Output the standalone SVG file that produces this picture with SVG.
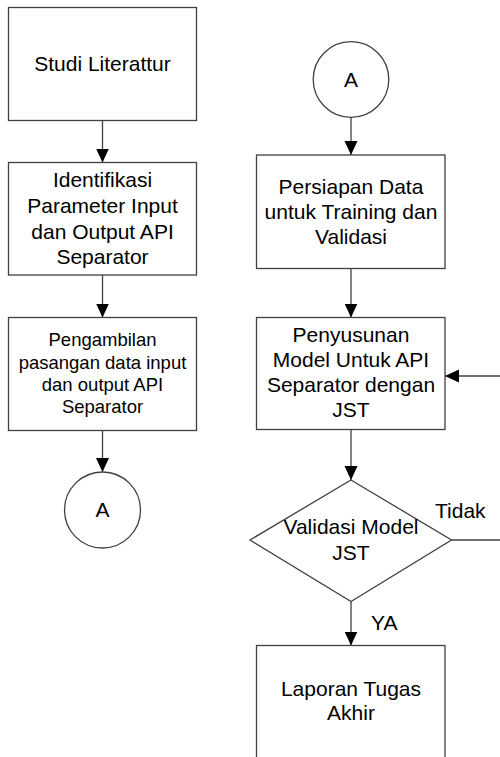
<svg xmlns="http://www.w3.org/2000/svg" width="500" height="757" viewBox="0 0 500 757">
<defs>
<marker id="ah" markerWidth="14" markerHeight="14" refX="14" refY="7" orient="auto" markerUnits="userSpaceOnUse">
<path d="M0,0.5 L14,7 L0,13.5 Z" fill="#000"/>
</marker>
<style>
.n{fill:#fff;stroke:#404040;stroke-width:1.3}
.c{fill:none;stroke:#404040;stroke-width:1.3}
text{font-family:"Liberation Sans",Arial,sans-serif;font-size:21px;fill:#000;text-anchor:middle}
.s{font-size:18.5px}
.l{text-anchor:start}
</style>
</defs>
<g id="connectors">
<line class="c" x1="102.5" y1="120.5" x2="102.5" y2="162.5" marker-end="url(#ah)"/>
<line class="c" x1="102.5" y1="275" x2="102.5" y2="317.5" marker-end="url(#ah)"/>
<line class="c" x1="102.5" y1="430.5" x2="102.5" y2="472" marker-end="url(#ah)"/>
<line class="c" x1="351" y1="117.5" x2="351" y2="155" marker-end="url(#ah)"/>
<line class="c" x1="351" y1="268.5" x2="351" y2="317.5" marker-end="url(#ah)"/>
<line class="c" x1="351" y1="429.5" x2="351" y2="480" marker-end="url(#ah)"/>
<line class="c" x1="351" y1="601.5" x2="351" y2="645.5" marker-end="url(#ah)"/>
<line class="c" x1="451.5" y1="540" x2="502" y2="540"/>
<line class="c" x1="502" y1="376" x2="445" y2="376" marker-end="url(#ah)"/>
<text class="l" x="435" y="518">Tidak</text>
<text class="l" x="371" y="630">YA</text>
</g>
<g id="n1">
<rect class="n" x="8.5" y="7.5" width="188" height="113"/>
<text x="102.5" y="71">Studi Literattur</text>
</g>
<g id="n2">
<rect class="n" x="8.5" y="162.5" width="188" height="112.5"/>
<text x="102.5" y="187">Identifikasi</text>
<text x="102.5" y="213">Parameter Input</text>
<text x="102.5" y="238.5">dan Output API</text>
<text x="102.5" y="264">Separator</text>
</g>
<g id="n3">
<rect class="n" x="8.5" y="317.5" width="188" height="113"/>
<text class="s" x="102.5" y="346">Pengambilan</text>
<text class="s" x="102.5" y="368.5">pasangan data input</text>
<text class="s" x="102.5" y="391">dan output API</text>
<text class="s" x="102.5" y="413">Separator</text>
</g>
<g id="n4">
<circle class="n" cx="102.5" cy="510" r="38"/>
<text x="102.5" y="517">A</text>
</g>
<g id="n5">
<circle class="n" cx="351" cy="79.5" r="37.8"/>
<text x="351" y="87">A</text>
</g>
<g id="n6">
<rect class="n" x="256.5" y="155" width="188.5" height="113.5"/>
<text x="351" y="193.5">Persiapan Data</text>
<text x="351" y="218.5">untuk Training dan</text>
<text x="351" y="243.5">Validasi</text>
</g>
<g id="n7">
<rect class="n" x="256.5" y="317.5" width="188.5" height="112"/>
<text x="351" y="342">Penyusunan</text>
<text x="351" y="367">Model Untuk API</text>
<text x="351" y="392">Separator dengan</text>
<text x="351" y="417">JST</text>
</g>
<g id="n8">
<polygon class="n" points="351,480 451.5,540 351,601.5 250,540"/>
<text x="351" y="533.5">Validasi Model</text>
<text x="351" y="559.5">JST</text>
</g>
<g id="n9">
<rect class="n" x="256.5" y="645.5" width="188.5" height="125"/>
<text x="351" y="696">Laporan Tugas</text>
<text x="351" y="720">Akhir</text>
</g>
</svg>
